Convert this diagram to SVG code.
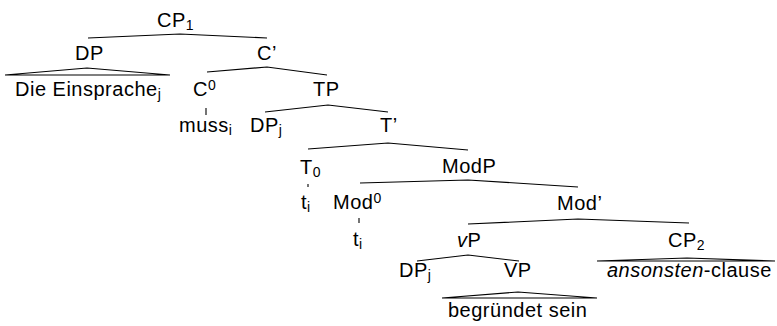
<svg xmlns="http://www.w3.org/2000/svg" width="777" height="326" viewBox="0 0 777 326">
<style>
.l{font-family:"Liberation Sans",Arial,Helvetica,sans-serif;font-size:20px;letter-spacing:0.5px;fill:#000}
.s{font-size:14px;letter-spacing:0}
.it{font-style:italic}
.e{stroke:#000;stroke-width:1.1;fill:none;stroke-linecap:butt}
</style>
<rect width="777" height="326" fill="#fff"/>
<g id="connectors">
<polyline class="e" points="88,38 180,34 267,38"/>
<polygon class="e" points="5,75 87,68 170,75"/>
<polyline class="e" points="207,72 267,67 327,75"/>
<line class="e" x1="206" y1="108" x2="206" y2="115"/>
<polyline class="e" points="265,112 328,105 388,112"/>
<polyline class="e" points="308,149 388,143 468,150"/>
<line class="e" x1="308" y1="184" x2="308" y2="187"/>
<polyline class="e" points="360,183 468,180 578,187"/>
<line class="e" x1="359" y1="218" x2="359" y2="223"/>
<polyline class="e" points="468,224 578,219 689,223"/>
<polyline class="e" points="417,261 468,255 519,261"/>
<polygon class="e" points="597,261 687,258 775,261"/>
<polygon class="e" points="442,298 518,292 597,298"/>
</g>
<g id="CP1"><text class="l" x="157" y="27">CP<tspan class="s" dy="3">1</tspan></text></g>
<g id="DP"><text class="l" x="75" y="60">DP</text></g>
<g id="DP-leaf"><text class="l" x="15" y="96">Die Einsprache<tspan class="s" dy="3">j</tspan></text></g>
<g id="Cbar"><text class="l" x="257" y="60">C’</text></g>
<g id="C0"><text class="l" x="193" y="96">C<tspan class="s" dy="-6">0</tspan></text></g>
<g id="muss"><text class="l" x="179" y="132">muss<tspan class="s" dy="3">i</tspan></text></g>
<g id="TP"><text class="l" x="313" y="96">TP</text></g>
<g id="DPj1"><text class="l" x="250" y="132">DP<tspan class="s" dy="3">j</tspan></text></g>
<g id="Tbar"><text class="l" x="380" y="132">T’</text></g>
<g id="T0"><text class="l" x="300" y="174">T<tspan class="s" dy="3">0</tspan></text></g>
<g id="ti"><text class="l" x="301" y="209">t<tspan class="s" dy="3">i</tspan></text></g>
<g id="ModP"><text class="l" x="442" y="173">ModP</text></g>
<g id="Mod0"><text class="l" x="333" y="209">Mod<tspan class="s" dy="-6">0</tspan></text></g>
<g id="ti2"><text class="l" x="353" y="246">t<tspan class="s" dy="3">i</tspan></text></g>
<g id="Modbar"><text class="l" x="557" y="210">Mod’</text></g>
<g id="vP"><text class="l" x="457" y="247"><tspan class="it">v</tspan>P</text></g>
<g id="CP2"><text class="l" x="668" y="247">CP<tspan class="s" dy="3">2</tspan></text></g>
<g id="DPj2"><text class="l" x="399" y="277">DP<tspan class="s" dy="3">j</tspan></text></g>
<g id="VP"><text class="l" x="504" y="277">VP</text></g>
<g id="clause"><text class="l" x="607" y="277"><tspan class="it">ansonsten</tspan>-clause</text></g>
<g id="leaf"><text class="l" x="448" y="317">begründet sein</text></g>
</svg>
